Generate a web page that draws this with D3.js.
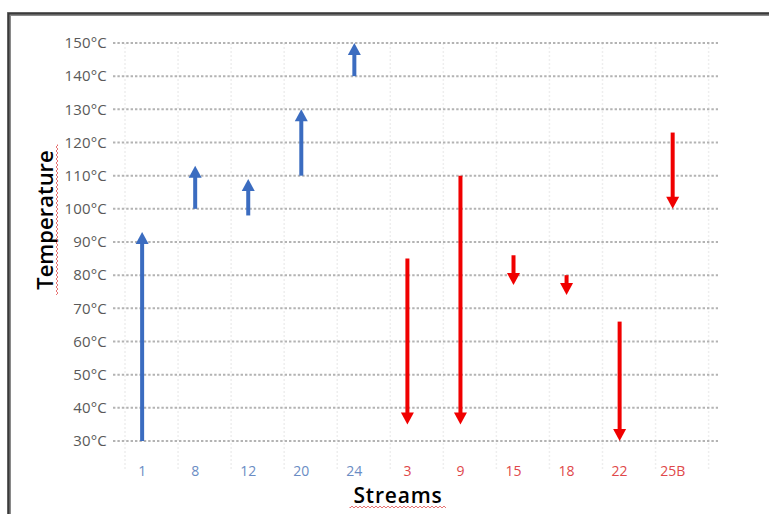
<!DOCTYPE html>
<html>
<head>
<meta charset="utf-8">
<script src="https://cdn.jsdelivr.net/npm/d3@7"></script>
<style>
  html, body { margin: 0; padding: 0; background: #fff; }
  svg { display: block; }
</style>
</head>
<body>
<svg id="chart" width="769" height="514"></svg>
<script>
// ---- data ----
const categories = ["1", "8", "12", "20", "24", "3", "9", "15", "18", "22", "25B"];
const streamType = ["cold", "cold", "cold", "cold", "cold", "hot", "hot", "hot", "hot", "hot", "hot"];
const startTemps = [30, 100, 98, 110, 140, 85, 110, 86, 80, 66, 123];
const endTemps   = [93, 113, 109, 130, 150, 35, 35, 77, 74, 30, 100];
const yTicks = [30, 40, 50, 60, 70, 80, 90, 100, 110, 120, 130, 140, 150];

const colors = { cold: "#3b6cc0", hot: "#f00000" };
const labelColors = { cold: "#6a8cc4", hot: "#e0484a" };

const svg = d3.select("#chart");

const x = d3.scaleBand().domain(categories).range([115.6, 699.2]).padding(0);
const y = d3.scaleLinear().domain([30, 150]).range([441, 43]);
const gridX0 = 113, gridX1 = 718;

// frame (top & left edges of the pasted picture)
svg.append("path")
  .attr("d", "M9,514 L9,14 L769,14")
  .attr("fill", "none").attr("stroke", "#8a8a8a").attr("stroke-width", 4);
svg.append("path")
  .attr("d", "M8.5,514 L8.5,13.5 L769,13.5")
  .attr("fill", "none").attr("stroke", "#3a3a3a").attr("stroke-width", 2);

// faint vertical grid
svg.append("g").selectAll("line")
  .data(categories.slice(0).concat(["_end"]))
  .join("line")
  .attr("x1", (d, i) => gridX0 + i * x.step() + 12)
  .attr("x2", (d, i) => gridX0 + i * x.step() + 12)
  .attr("y1", y(150)).attr("y2", y(30) + 30)
  .attr("stroke", "#eeeeee").attr("stroke-width", 1.5)
  .attr("stroke-dasharray", "2,2");

// horizontal dotted grid
svg.append("g").selectAll("line")
  .data(yTicks)
  .join("line")
  .attr("x1", gridX0).attr("x2", gridX1)
  .attr("y1", d => y(d)).attr("y2", d => y(d))
  .attr("stroke", "#b3b3b3").attr("stroke-width", 2)
  .attr("stroke-dasharray", "2.4,2");

// y axis labels
const yAxis = d3.axisLeft(y).tickValues(yTicks).tickSize(0).tickPadding(0)
  .tickFormat(d => d + "°C");
const gy = svg.append("g").attr("transform", "translate(107,0)").call(yAxis);
gy.select(".domain").remove();
gy.selectAll("text")
  .attr("fill", "#595959")
  .style("font-family", "'Open Sans', sans-serif")
  .style("font-size", "15px")
  .attr("letter-spacing", "0.2");

// x axis labels
const xAxis = d3.axisBottom(x).tickSize(0).tickPadding(0);
const gx = svg.append("g").attr("transform", "translate(0,466)").call(xAxis);
gx.select(".domain").remove();
gx.selectAll("text")
  .attr("fill", (d, i) => labelColors[streamType[i]])
  .style("font-family", "'Open Sans', sans-serif")
  .style("font-size", "14px");

// arrows
const headLen = 12, headHalf = 6.5;
const arrows = svg.append("g").selectAll("g")
  .data(categories.map((c, i) => ({ c, t: streamType[i], s: startTemps[i], e: endTemps[i] })))
  .join("g");
arrows.append("line")
  .attr("x1", d => x(d.c) + x.bandwidth() / 2)
  .attr("x2", d => x(d.c) + x.bandwidth() / 2)
  .attr("y1", d => y(d.s))
  .attr("y2", d => y(d.e) + (d.e > d.s ? headLen - 2 : -(headLen - 2)))
  .attr("stroke", d => colors[d.t]).attr("stroke-width", 4);
arrows.append("path")
  .attr("d", d => {
    const cx = x(d.c) + x.bandwidth() / 2;
    const ty = y(d.e);
    const dir = d.e > d.s ? 1 : -1; // up => base below tip
    const by = ty + dir * headLen;
    return `M${cx},${ty} L${cx - headHalf},${by} L${cx + headHalf},${by} Z`;
  })
  .attr("fill", d => colors[d.t]);

// axis titles
svg.append("text")
  .attr("transform", "translate(53,220) rotate(-90)")
  .attr("text-anchor", "middle")
  .style("font-family", "'Open Sans', sans-serif")
  .style("font-size", "22px").style("font-weight", 600)
  .attr("fill", "#000")
  .text("Temperature");
svg.append("text")
  .attr("x", 398).attr("y", 503)
  .attr("text-anchor", "middle")
  .style("font-family", "'Open Sans', sans-serif")
  .style("font-size", "21px").style("font-weight", 600)
  .attr("letter-spacing", "0.8")
  .attr("fill", "#000")
  .text("Streams");

// spell-check squiggles
function squiggle(x0, y0, len, vertical) {
  let d = `M${x0},${y0}`;
  for (let k = 0; k <= len; k += 2) {
    const off = (k / 2) % 2 === 0 ? 1 : -1;
    d += vertical ? ` L${x0 + off},${y0 + k}` : ` L${x0 + k},${y0 + off}`;
  }
  return d;
}
svg.append("path").attr("d", squiggle(57, 145, 150, true))
  .attr("fill", "none").attr("stroke", "#e05050").attr("stroke-width", 0.8);
svg.append("path").attr("d", squiggle(350, 507, 97, false))
  .attr("fill", "none").attr("stroke", "#e05050").attr("stroke-width", 0.8);
</script>
</body>
</html>
